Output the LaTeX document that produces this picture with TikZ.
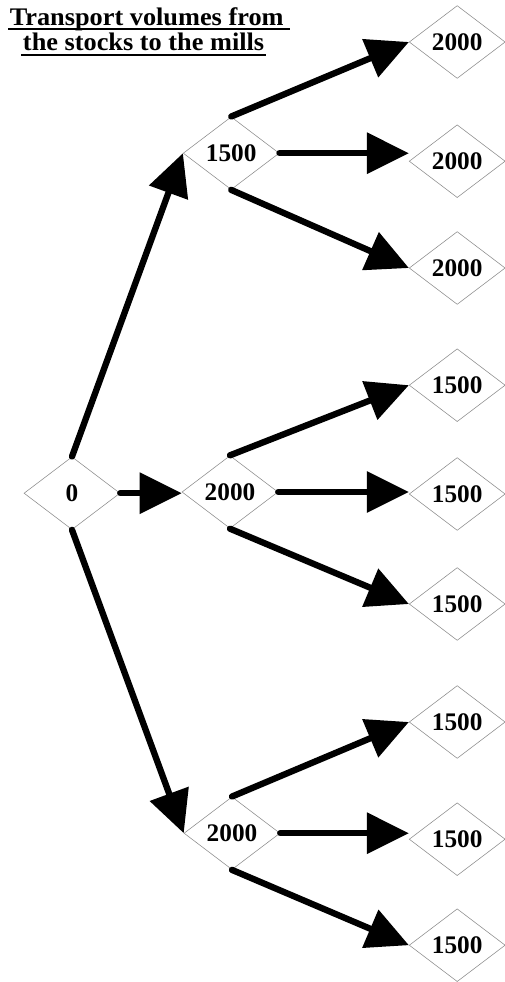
\documentclass[tikz,border=0pt]{standalone}
\usepackage{fontspec}
\setmainfont{Liberation Serif}
\newfontfamily\headfont[FakeStretch=1.04]{Liberation Serif}
\usepackage{tikz}
\usetikzlibrary{arrows.meta, shapes.geometric}
\tikzset{
  volnode/.style={diamond,draw=black!45,line width=0.4pt,inner sep=0pt,minimum width=2.4cm,minimum height=1.82cm,font=\fontsize{18}{20}\selectfont\bfseries},
  headnode/.style={anchor=base,inner ysep=0pt,inner xsep=1pt,font=\headfont\fontsize{18}{18}\selectfont\bfseries},
  headline/.style={line width=1.4pt},
  flowedge/.style={-{Triangle[length=1.05cm,width=1cm]},line width=4.5pt,line cap=round,black},
}
\begin{document}
\begin{tikzpicture}
  \useasboundingbox (0,0) rectangle (12.625,-24.55);
  % title
  \node[headnode] (nTitleA) at (3.72,-0.63) {Transport volumes from\,};
  \node[headnode] (nTitleB) at (3.59,-1.25) {the stocks to the mills};
  \draw[headline] ([yshift=-3pt]nTitleA.base west) -- ([yshift=-3pt]nTitleA.base east);
  \draw[headline] ([yshift=-3.5pt]nTitleB.base west) -- ([yshift=-3.5pt]nTitleB.base east);
  % stocks
  \node[volnode] (nS0) at (1.80,-12.33) {0};
  \node[volnode] (nS1) at (5.78,-3.83) {1500};
  \node[volnode] (nS2) at (5.75,-12.30) {2000};
  \node[volnode] (nS3) at (5.80,-20.83) {2000};
  % mills
  \node[volnode] (nM11) at (11.43,-1.05) {2000};
  \node[volnode] (nM12) at (11.43,-4.03) {2000};
  \node[volnode] (nM13) at (11.43,-6.70) {2000};
  \node[volnode] (nM21) at (11.43,-9.63) {1500};
  \node[volnode] (nM22) at (11.43,-12.35) {1500};
  \node[volnode] (nM23) at (11.43,-15.10) {1500};
  \node[volnode] (nM31) at (11.43,-18.05) {1500};
  \node[volnode] (nM32) at (11.43,-20.98) {1500};
  \node[volnode] (nM33) at (11.43,-23.63) {1500};
  \draw[flowedge] (nS0.north) -- (nS1.west);
  \draw[flowedge] (nS0.east) -- (nS0.east -| nS2.west);
  \draw[flowedge] (nS0.south) -- (nS3.west);
  \draw[flowedge] (nS1.north) -- (nM11.west);
  \draw[flowedge] (nS1.east) -- (nS1.east -| nM12.west);
  \draw[flowedge] (nS1.south) -- (nM13.west);
  \draw[flowedge] (nS2.north) -- (nM21.west);
  \draw[flowedge] (nS2.east) -- (nS2.east -| nM22.west);
  \draw[flowedge] (nS2.south) -- (nM23.west);
  \draw[flowedge] (nS3.north) -- (nM31.west);
  \draw[flowedge] (nS3.east) -- (nS3.east -| nM32.west);
  \draw[flowedge] (nS3.south) -- (nM33.west);
\end{tikzpicture}
\end{document}
